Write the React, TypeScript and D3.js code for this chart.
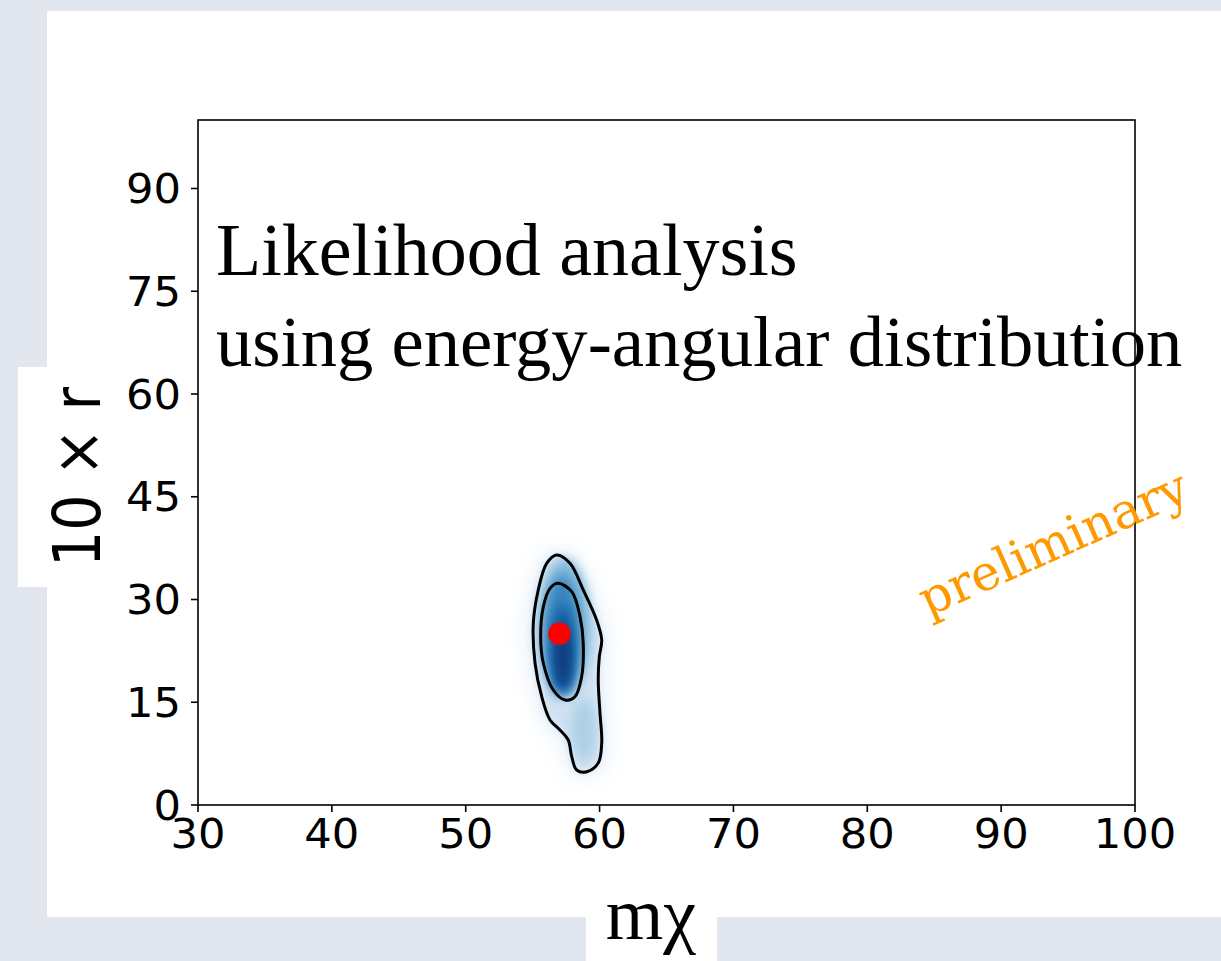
import React from "react";
import * as d3 from "d3";

// ---- data ----
const xTicks = [30, 40, 50, 60, 70, 80, 90, 100];
const yTicks = [0, 15, 30, 45, 60, 75, 90];
const xDomain = [30, 100];
const yDomain = [0, 100];

// 2-sigma contour (mχ, 10×r)
const outerM = [56.8, 57.79, 58.78, 59.78, 60.16, 59.98, 59.9, 60.03, 60.16, 59.9, 59.04, 58.29, 57.92, 57.66, 57.04, 56.3, 55.68, 55.18, 55.05, 55.42, 56.05];
const outerR = [36.5, 35.28, 31.39, 27.0, 24.09, 21.65, 18.25, 13.43, 9.05, 6.13, 4.86, 5.11, 7.05, 9.49, 10.95, 12.41, 15.81, 20.69, 26.53, 31.39, 35.28];
// 1-sigma contour
const innerM = [56.9, 57.92, 58.54, 58.78, 58.66, 58.16, 57.42, 56.54, 55.8, 55.6, 55.8, 56.3];
const innerR = [32.36, 31.14, 27.49, 23.61, 18.73, 15.81, 15.33, 16.79, 20.69, 24.57, 28.95, 31.63];

// best fit point
const bestM = [57.0];
const bestR = [25.0];

// density blobs (centre, spread, relative density level)
const blobM = [57.4, 58.8, 57.2, 57.25, 57.3];
const blobR = [26.0, 11.0, 25.0, 22.5, 21.5];
const blobSM = [1.9, 0.9, 1.3, 0.85, 0.5];
const blobSR = [10.0, 4.5, 8.5, 6.5, 4.2];
const blobLevel = [0.45, 0.33, 0.68, 0.85, 0.97];

const titleLines = ["Likelihood analysis", "using energy-angular distribution"];
const titleSizes = [74, 72.6];

export default function App() {
  const W = 1221, H = 961;
  const left = 198, right = 1135, top = 120, bottom = 805;
  const x = d3.scaleLinear().domain(xDomain).range([left, right]);
  const y = d3.scaleLinear().domain(yDomain).range([bottom, top]);

  const line = d3
    .line<[number, number]>()
    .x((d) => x(d[0]))
    .y((d) => y(d[1]))
    .curve(d3.curveCatmullRomClosed.alpha(0.5));
  const outerPts = outerM.map((m, i) => [m, outerR[i]] as [number, number]);
  const innerPts = innerM.map((m, i) => [m, innerR[i]] as [number, number]);
  const outerPath = line(outerPts) || "";
  const innerPath = line(innerPts) || "";

  const blue = (v: number) => d3.interpolateBlues(v);
  const sx = 1.08;

  return (
    <svg
      width={W}
      height={H}
      style={{ position: "absolute", left: 0, top: 0, display: "block" }}
    >
      <defs>
        <filter id="b12" x="-100%" y="-100%" width="300%" height="300%">
          <feGaussianBlur stdDeviation="12" />
        </filter>
        <filter id="b4" x="-100%" y="-100%" width="300%" height="300%">
          <feGaussianBlur stdDeviation="4" />
        </filter>
        <filter id="b6" x="-100%" y="-100%" width="300%" height="300%">
          <feGaussianBlur stdDeviation="6" />
        </filter>
      </defs>
      <rect x={0} y={0} width={W} height={H} fill="#e2e6ef" />
      <rect x={47} y={11} width={W - 47} height={917 - 11} fill="#ffffff" />
      <rect x={18} y={367} width={30} height={587 - 367} fill="#ffffff" />
      <rect x={586} y={916} width={717 - 586} height={H - 916} fill="#ffffff" />

      {/* density */}
      <path d={outerPath} fill={blue(0.1)} stroke={blue(0.06)} strokeWidth={14} filter="url(#b12)" />
      <path d={outerPath} fill={blue(0.2)} filter="url(#b4)" />
      {blobM.map((m, i) => (
        <ellipse
          key={i}
          cx={x(m)}
          cy={y(blobR[i])}
          rx={x(m + blobSM[i]) - x(m)}
          ry={y(0) - y(blobSR[i])}
          fill={blue(blobLevel[i])}
          filter="url(#b6)"
        />
      ))}

      {/* contours */}
      <path d={outerPath} fill="none" stroke="#000" strokeWidth={3} />
      <path d={innerPath} fill="none" stroke="#000" strokeWidth={3} />

      {/* best fit */}
      {bestM.map((m, i) => (
        <circle key={i} cx={x(m)} cy={y(bestR[i])} r={11.3} fill="#ff0000" />
      ))}

      {/* frame */}
      <rect
        x={left}
        y={top}
        width={right - left}
        height={bottom - top}
        fill="none"
        stroke="#000"
        strokeWidth={1.6}
      />

      {/* y ticks */}
      {yTicks.map((t) => (
        <g key={"y" + t}>
          <line x1={left - 7} x2={left} y1={y(t)} y2={y(t)} stroke="#000" strokeWidth={1.6} />
          <text
            transform={`translate(${left - 17},${y(t) + 14.5}) scale(${sx},1)`}
            textAnchor="end"
            fontFamily="DejaVu Sans"
            fontSize={40}
            fill="#000"
          >
            {t}
          </text>
        </g>
      ))}
      {/* x ticks */}
      {xTicks.map((t) => (
        <g key={"x" + t}>
          <line x1={x(t)} x2={x(t)} y1={bottom} y2={bottom + 7} stroke="#000" strokeWidth={1.6} />
          <text
            transform={`translate(${x(t)},${848}) scale(${sx},1)`}
            textAnchor="middle"
            fontFamily="DejaVu Sans"
            fontSize={40}
            fill="#000"
          >
            {t}
          </text>
        </g>
      ))}

      {/* axis labels */}
      <text
        transform={`translate(100,477) rotate(-90) scale(1,1.15)`}
        textAnchor="middle"
        fontFamily="DejaVu Sans"
        fontSize={57}
        fill="#000"
      >
        10 × r
      </text>
      <text
        x={651}
        y={939}
        textAnchor="middle"
        fontFamily="Liberation Serif"
        fontSize={74}
        fill="#000"
      >
        mχ
      </text>

      {/* title */}
      {titleLines.map((s, i) => (
        <text
          key={i}
          x={216}
          y={275 + i * 91}
          fontFamily="Liberation Serif"
          fontSize={titleSizes[i]}
          fill="#000"
        >
          {s}
        </text>
      ))}

      {/* preliminary stamp */}
      <rect x={1140} y={460} width={W - 1140} height={92} fill="#ffffff" />
      <text
        transform="translate(928,617) rotate(-24)"
        fontFamily="DejaVu Serif"
        fontSize={49}
        fill="#ff9900"
      >
        preliminary
      </text>
    </svg>
  );
}
